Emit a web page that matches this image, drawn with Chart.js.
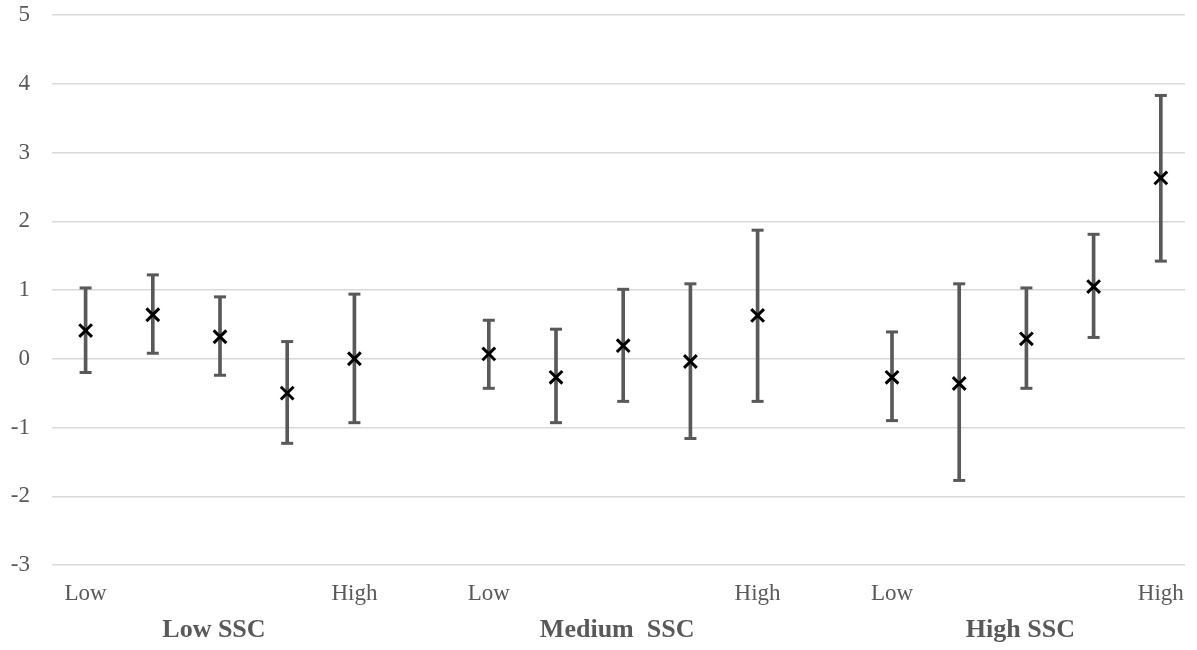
<!DOCTYPE html>
<html>
<head>
<meta charset="utf-8">
<script src="https://cdn.jsdelivr.net/npm/chart.js@4.4.1/dist/chart.umd.min.js"></script>
<style>
  html, body { margin: 0; padding: 0; background: #ffffff; }
  #wrap { width: 1197px; height: 650px; position: relative; }
</style>
</head>
<body>
<div id="wrap"><canvas id="c"></canvas></div>
<script>
// ---- data ----
const groupNames = ["Low SSC", "Medium  SSC", "High SSC"];
const levelLabels = ["Low", "", "", "", "High"];
const means = [0.41, 0.64, 0.32, -0.50, 0.00,  0.07, -0.27, 0.19, -0.04, 0.63,  -0.27, -0.36, 0.29, 1.05, 2.63];
const upper = [1.03, 1.22, 0.90, 0.25, 0.94,  0.56, 0.43, 1.01, 1.09, 1.87,  0.39, 1.09, 1.03, 1.81, 3.83];
const lower = [-0.20, 0.08, -0.24, -1.23, -0.93,  -0.43, -0.93, -0.62, -1.16, -0.62,  -0.90, -1.77, -0.43, 0.31, 1.42];
const yTicks = [-3, -2, -1, 0, 1, 2, 3, 4, 5];

// ---- layout helpers (slot positions: 5 levels per group + one empty slot between groups) ----
const perGroup = levelLabels.length;
const slot = i => Math.floor(i / perGroup) * (perGroup + 1) + (i % perGroup);
const levelTickPos = [], levelTickText = {};
groupNames.forEach((g, gi) => {
  levelLabels.forEach((l, li) => {
    if (l) { const p = gi * (perGroup + 1) + li; levelTickPos.push(p); levelTickText[p] = l; }
  });
});
const groupTickPos = [], groupTickText = {};
groupNames.forEach((g, gi) => {
  const p = +(gi * (perGroup + 1) + (perGroup - 1) / 2 - 0.09).toFixed(2);
  groupTickPos.push(p); groupTickText[p] = g;
});

const barData = means.map((m, i) => ({ x: slot(i), y: [lower[i], upper[i]] }));
const capData = means.map((m, i) => ({ x: slot(i), y: upper[i] }))
  .concat(means.map((m, i) => ({ x: slot(i), y: lower[i] })));
const meanData = means.map((m, i) => ({ x: slot(i), y: m }));

const serif = "'Liberation Serif', 'Times New Roman', serif";
const gray = '#595959';
const xMin = -0.5, xMax = 16.36;

new Chart(document.getElementById('c'), {
  type: 'scatter',
  data: {
    datasets: [
      {
        type: 'bar',
        data: barData,
        backgroundColor: gray,
        borderWidth: 0,
        barThickness: 3,
        order: 2
      },
      {
        type: 'scatter',
        data: capData,
        pointStyle: 'line',
        pointRadius: 6,
        pointBorderWidth: 3,
        borderColor: gray,
        backgroundColor: gray,
        order: 1
      },
      {
        type: 'scatter',
        data: meanData,
        pointStyle: 'crossRot',
        pointRadius: 9,
        pointBorderWidth: 3,
        borderColor: '#000000',
        backgroundColor: '#000000',
        order: 0
      }
    ]
  },
  options: {
    responsive: true,
    maintainAspectRatio: false,
    animation: false,
    events: [],
    layout: { padding: { top: 15, right: 12, bottom: 3, left: 0 } },
    plugins: { legend: { display: false }, tooltip: { enabled: false } },
    scales: {
      x: {
        type: 'linear',
        position: 'bottom',
        weight: 0,
        offset: false,
        min: xMin, max: xMax,
        grid: { display: false, drawTicks: false, offset: false },
        border: { display: false },
        afterBuildTicks: axis => { axis.ticks = levelTickPos.map(v => ({ value: v })); },
        afterFit: axis => { axis.height = 43; axis.paddingLeft = 0; axis.paddingRight = 0; },
        ticks: {
          autoSkip: false,
          maxRotation: 0,
          padding: 15,
          color: gray,
          font: { family: serif, size: 23 },
          callback: v => levelTickText[v] || ''
        }
      },
      x2: {
        type: 'linear',
        position: 'bottom',
        weight: 1,
        offset: false,
        min: xMin, max: xMax,
        grid: { display: false, drawTicks: false },
        border: { display: false },
        afterBuildTicks: axis => { axis.ticks = groupTickPos.map(v => ({ value: v })); },
        afterFit: axis => { axis.height = 39; axis.paddingLeft = 0; axis.paddingRight = 0; },
        ticks: {
          autoSkip: false,
          maxRotation: 0,
          padding: 7,
          color: gray,
          font: { family: serif, size: 26, weight: 'bold' },
          callback: v => groupTickText[v] || ''
        }
      },
      y: {
        type: 'linear',
        min: yTicks[0], max: yTicks[yTicks.length - 1],
        afterBuildTicks: axis => { axis.ticks = yTicks.map(v => ({ value: v })); },
        afterFit: axis => { axis.width = 52; axis.paddingTop = 0; axis.paddingBottom = 0; },
        grid: { color: '#d9d9d9', lineWidth: 1.5, drawTicks: false },
        border: { display: false },
        ticks: {
          padding: 22,
          color: gray,
          font: { family: serif, size: 23 },
          callback: v => String(v)
        }
      }
    }
  }
});
</script>
</body>
</html>
